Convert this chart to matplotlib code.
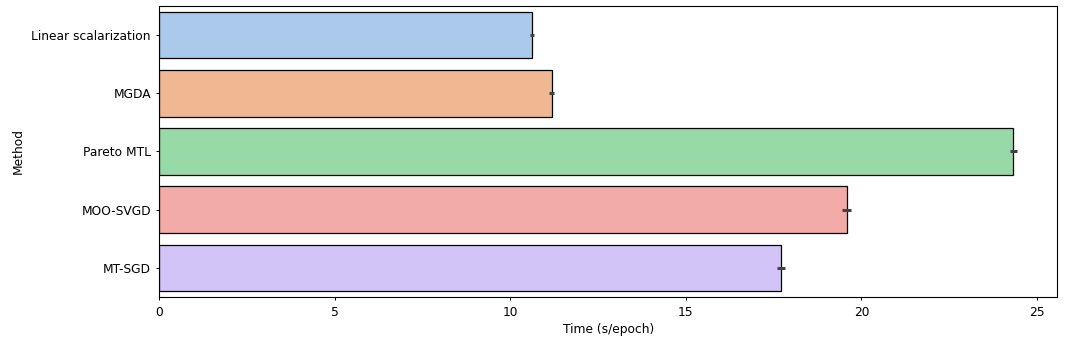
import numpy as np
import matplotlib
matplotlib.use("Agg")
import matplotlib.pyplot as plt
import seaborn as sns

methods = ["Linear scalarization", "MGDA", "Pareto MTL", "MOO-SVGD", "MT-SGD"]
time_mean = [10.62, 11.18, 24.32, 19.58, 17.70]
time_err = [0.06, 0.07, 0.10, 0.13, 0.11]

colors = sns.color_palette("pastel", len(methods), desat=0.75)

plt.rcParams.update({
    "font.size": 8.8,
    "xtick.major.size": 2.5,
    "ytick.major.size": 2.5,
    "xtick.major.width": 0.7,
    "ytick.major.width": 0.7,
    "axes.linewidth": 0.8,
})

fig = plt.figure(figsize=(10.7, 3.37), dpi=100)
ax = fig.add_axes([159.3 / 1070, 1 - 297.3 / 337, (1057.3 - 159.3) / 1070, (297.3 - 5.7) / 337])

ypos = np.arange(len(methods))
ax.barh(ypos, time_mean, height=0.8, color=colors, edgecolor="black", linewidth=0.9)
ax.errorbar(time_mean, ypos, xerr=time_err, fmt="none", ecolor=".26", elinewidth=2.2, capsize=0)

ax.set_yticks(ypos)
ax.set_yticklabels(methods)
ax.set_ylim(4.5, -0.5)
ax.set_xlim(0, 25.58)
ax.set_xlabel("Time (s/epoch)", labelpad=3)
ax.set_ylabel("Method", labelpad=4.5)

fig.savefig("out.png", dpi=100)
